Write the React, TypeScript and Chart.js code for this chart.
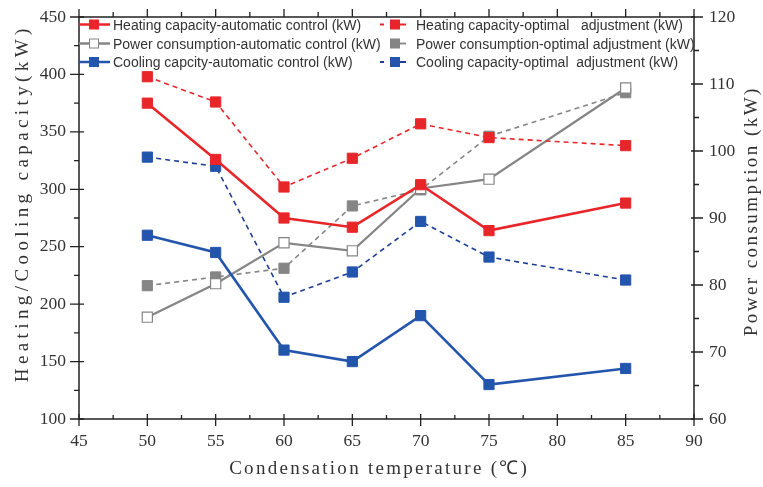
import React, { useEffect, useRef } from "react";
import { Chart, registerables } from "chart.js";
Chart.register(...registerables);

const temps = [50, 55, 60, 65, 70, 75, 85];
const heatAuto = [375, 326, 275, 267, 304, 264, 288];
const heatOpt = [398, 376, 302, 327, 357, 345, 338];
const powerAuto = [75.2, 80.2, 86.3, 85.1, 94.4, 95.8, 109.4];
const powerOpt = [79.9, 81.2, 82.5, 91.8, 94.2, 102.2, 108.7];
const coolAuto = [260, 245, 160, 150, 190, 130, 144];
const coolOpt = [328, 320, 206, 228, 272, 241, 221];

const xTicks = [45, 50, 55, 60, 65, 70, 75, 80, 85, 90];
const legendLabels = [
  "Heating capacity-automatic control (kW)",
  "Power consumption-automatic control (kW)",
  "Cooling capcity-automatic control (kW)",
  "Heating capacity-optimal   adjustment (kW)",
  "Power consumption-optimal adjustment (kW)",
  "Cooling capacity-optimal  adjustment (kW)",
];
const xTitle = "Condensation temperature (\u2103)";
const yTitle = "Heating/Cooling capacity(kW)";
const y2Title = "Power consumption (kW)";

const RED = "#e8262a";
const BLUE = "#2455ad";
const BLUE_D = "#1d3d96";
const GREY = "#858585";
const TITLE_FONT = "'Liberation Serif', serif";

const pts = (arr: number[]) => temps.map((t, i) => ({ x: t, y: arr[i] }));

function spacedText(ctx: any, text: string, x: number, y: number, target: number, rot: number) {
  ctx.save();
  ctx.letterSpacing = "0px";
  const w = ctx.measureText(text).width;
  const sp = Math.max(0, (target - w) / text.length);
  ctx.letterSpacing = sp.toFixed(2) + "px";
  ctx.translate(x + (rot ? 0 : sp / 2), y + (rot ? sp / 2 : 0));
  if (rot) ctx.rotate(rot);
  ctx.fillText(text, 0, 0);
  ctx.restore();
}

const zeroPad = (s: any) => {
  s.paddingTop = 0;
  s.paddingBottom = 0;
  s.paddingLeft = 0;
  s.paddingRight = 0;
};

const axisPlugin = {
  id: "axisDeco",
  afterDraw(chart: any) {
    const ctx = chart.ctx;
    const { left, right, top, bottom } = chart.chartArea;
    const sx = chart.scales.x;
    const sy = chart.scales.y;
    const sy2 = chart.scales.y2;
    ctx.save();
    ctx.strokeStyle = "#222";
    ctx.lineWidth = 1.5;
    ctx.beginPath();
    ctx.rect(left, top, right - left, bottom - top);
    ctx.stroke();
    ctx.lineWidth = 1.3;
    ctx.beginPath();
    for (let v = 45; v <= 90; v += 2.5) {
      const px = sx.getPixelForValue(v);
      const major = Math.abs(v % 5) < 0.01;
      if (major) {
        ctx.moveTo(px, bottom - 5);
        ctx.lineTo(px, bottom + 7);
        ctx.moveTo(px, top);
        ctx.lineTo(px, top - 8);
      } else {
        ctx.moveTo(px, bottom - 4);
        ctx.lineTo(px, bottom);
        ctx.moveTo(px, top);
        ctx.lineTo(px, top - 5);
      }
    }
    for (let v = 100; v <= 450; v += 25) {
      const py = sy.getPixelForValue(v);
      if (v % 50 === 0) {
        ctx.moveTo(left - 9, py);
        ctx.lineTo(left + 5, py);
      } else {
        ctx.moveTo(left - 5, py);
        ctx.lineTo(left, py);
      }
    }
    for (let v = 60; v <= 120; v += 5) {
      const py = sy2.getPixelForValue(v);
      if (v % 10 === 0) {
        ctx.moveTo(right - 3, py);
        ctx.lineTo(right + 9, py);
      } else {
        ctx.moveTo(right, py);
        ctx.lineTo(right + 5, py);
      }
    }
    ctx.stroke();

    ctx.fillStyle = "#333";
    ctx.textAlign = "center";
    ctx.textBaseline = "middle";
    ctx.font = "19px " + TITLE_FONT;
    spacedText(ctx, xTitle, 378, 469, 300, 0);
    spacedText(ctx, yTitle, 23, 201, 358, -Math.PI / 2);
    spacedText(ctx, y2Title, 752, 210, 250, -Math.PI / 2);

    const rows = [24.5, 43.5, 62];
    const colors = [RED, GREY, BLUE];
    ctx.font = "14px 'Liberation Sans', Arial, sans-serif";
    ctx.textAlign = "left";
    ctx.textBaseline = "alphabetic";
    for (let i = 0; i < 3; i++) {
      const y = rows[i];
      ctx.strokeStyle = colors[i];
      ctx.lineWidth = 2.5;
      ctx.setLineDash([]);
      ctx.beginPath();
      ctx.moveTo(79, y);
      ctx.lineTo(110, y);
      ctx.stroke();
      ctx.lineWidth = 1;
      if (i === 1) {
        ctx.fillStyle = "#fff";
        ctx.fillRect(89, y - 5, 10, 10);
        ctx.strokeRect(89.5, y - 4.5, 9, 9);
      } else {
        ctx.fillStyle = colors[i];
        ctx.fillRect(89, y - 5, 10, 10);
      }
      ctx.fillStyle = "#333";
      ctx.fillText(legendLabels[i], 113, y + 5);
      ctx.fillStyle = colors[i];
      ctx.fillRect(390, y - 5, 10, 10);
      ctx.strokeStyle = i === 2 ? BLUE_D : colors[i];
      ctx.lineWidth = 1.8;
      ctx.beginPath();
      if (i !== 1) {
        ctx.moveTo(380, y);
        ctx.lineTo(384, y);
      }
      ctx.moveTo(400, y);
      ctx.lineTo(406, y);
      ctx.stroke();
      ctx.fillStyle = "#333";
      ctx.fillText(legendLabels[i + 3], 416, y + 5);
    }
    ctx.restore();
  },
};

export default function App() {
  const ref = useRef<HTMLCanvasElement>(null);
  useEffect(() => {
    if (!ref.current) return;
    const solid = (label: string, data: number[], color: string, axis: string, hollow = false, w = 2.6) => ({
      label,
      data: pts(data),
      yAxisID: axis,
      borderColor: color,
      borderWidth: w,
      pointStyle: "rect",
      pointRadius: 7.2,
      pointBorderWidth: hollow ? 1.2 : 1,
      pointBackgroundColor: hollow ? "#fff" : color,
      pointBorderColor: color,
      tension: 0,
      fill: false,
    });
    const dashed = (label: string, data: number[], color: string, mcolor: string, axis: string) => ({
      label,
      data: pts(data),
      yAxisID: axis,
      borderColor: color,
      borderWidth: 1.6,
      borderDash: [5, 4],
      pointStyle: "rect",
      pointRadius: 7.2,
      pointBorderWidth: 1,
      pointBackgroundColor: mcolor,
      pointBorderColor: mcolor,
      tension: 0,
      fill: false,
    });
    const tickFont = { family: "'Liberation Serif'", size: 17.5 };
    const chart = new Chart(ref.current, {
      type: "line",
      data: {
        datasets: [
          solid(legendLabels[0], heatAuto, RED, "y"),
          dashed(legendLabels[3], heatOpt, RED, RED, "y"),
          solid(legendLabels[2], coolAuto, BLUE, "y"),
          dashed(legendLabels[5], coolOpt, BLUE_D, BLUE, "y"),
          solid(legendLabels[1], powerAuto, GREY, "y2", true, 2.2),
          dashed(legendLabels[4], powerOpt, GREY, GREY, "y2"),
        ] as any,
      },
      options: {
        animation: false,
        responsive: false,
        maintainAspectRatio: false,
        layout: { padding: { top: 17, left: 0, right: 0, bottom: 0 } },
        plugins: { legend: { display: false }, tooltip: { enabled: false } },
        scales: {
          x: {
            type: "linear",
            min: 45,
            max: 90,
            afterBuildTicks: (s: any) => {
              s.ticks = xTicks.map((v) => ({ value: v }));
            },
            afterFit: (s: any) => {
              s.height = 68;
              zeroPad(s);
            },
            grid: { display: false, drawTicks: false },
            border: { display: false },
            ticks: { font: tickFont, color: "#333", padding: 12, maxRotation: 0, autoSkip: false },
          },
          y: {
            type: "linear",
            position: "left",
            min: 100,
            max: 450,
            afterFit: (s: any) => {
              s.width = 79;
              zeroPad(s);
            },
            grid: { display: false, drawTicks: false },
            border: { display: false },
            ticks: { stepSize: 50, font: tickFont, color: "#333", padding: 13 },
          },
          y2: {
            type: "linear",
            position: "right",
            min: 60,
            max: 120,
            afterFit: (s: any) => {
              s.width = 69;
              zeroPad(s);
            },
            grid: { display: false, drawTicks: false },
            border: { display: false },
            ticks: { stepSize: 10, font: tickFont, color: "#333", padding: 15 },
          },
        },
      } as any,
      plugins: [axisPlugin],
    });
    return () => chart.destroy();
  }, []);
  return (
    <div style={{ position: "fixed", left: 0, top: 0, width: 763, height: 487, background: "#fff" }}>
      <canvas ref={ref} width={763} height={487} style={{ width: 763, height: 487 }} />
    </div>
  );
}
